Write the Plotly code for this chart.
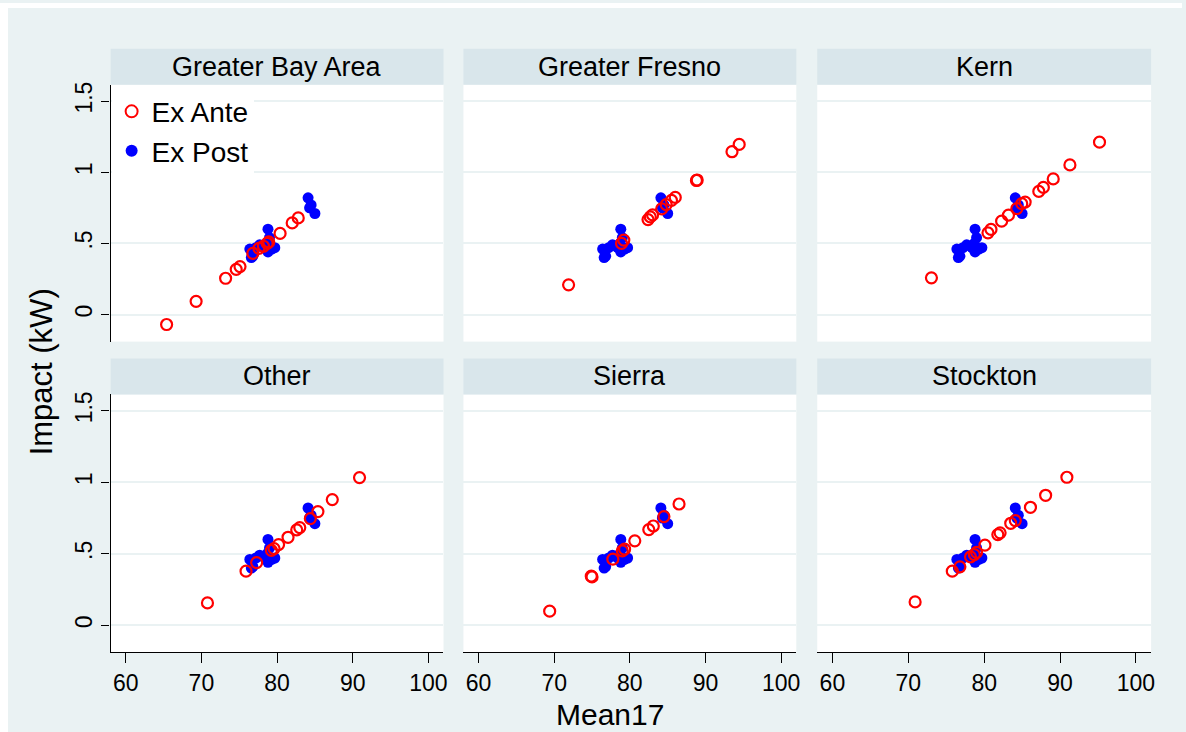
import plotly.graph_objects as go
from plotly.subplots import make_subplots

W, H = 1186, 732

regions = ["Greater Bay Area", "Greater Fresno", "Kern", "Other", "Sierra", "Stockton"]

# Ex Post (same in every panel)
post_x = [84.1, 84.5, 85.0, 84.3, 78.8, 79.0, 78.7, 78.4, 78.8, 79.7, 77.7, 77.2, 76.4, 76.8, 76.6, 78.2, 79.3]
post_y = [0.82, 0.77, 0.71, 0.75, 0.60, 0.54, 0.50, 0.47, 0.44, 0.47, 0.49, 0.47, 0.46, 0.41, 0.40, 0.48, 0.46]

# Ex Ante by region
gba_x = [65.4, 69.3, 73.2, 74.6, 75.1, 76.8, 77.6, 78.2, 78.7, 78.9, 80.4, 82.0, 82.8]
gba_y = [-0.07, 0.093, 0.255, 0.318, 0.337, 0.43, 0.465, 0.48, 0.50, 0.51, 0.57, 0.644, 0.679]

fresno_x = [71.9, 78.9, 79.2, 82.4, 82.7, 83.0, 84.2, 84.8, 85.5, 86.0, 88.8, 88.9, 93.5, 94.45]
fresno_y = [0.209, 0.50, 0.523, 0.667, 0.686, 0.70, 0.742, 0.772, 0.802, 0.823, 0.942, 0.945, 1.144, 1.195]

kern_x = [73.05, 80.5, 80.9, 82.3, 83.2, 84.3, 84.95, 85.4, 87.2, 87.8, 89.1, 91.3, 95.2]
kern_y = [0.258, 0.574, 0.598, 0.656, 0.698, 0.744, 0.779, 0.79, 0.865, 0.893, 0.953, 1.051, 1.211]

other_x = [70.8, 75.9, 77.3, 79.25, 79.6, 80.2, 81.45, 82.6, 83.0, 84.4, 85.4, 87.3, 90.9]
other_y = [0.156, 0.378, 0.438, 0.524, 0.536, 0.564, 0.615, 0.667, 0.683, 0.746, 0.795, 0.879, 1.033]

sierra_x = [69.4, 74.9, 75.0, 77.75, 79.0, 79.3, 80.65, 82.5, 83.1, 84.5, 86.5]
sierra_y = [0.098, 0.343, 0.338, 0.462, 0.52, 0.532, 0.59, 0.669, 0.694, 0.76, 0.848]

stockton_x = [70.9, 75.8, 76.8, 78.2, 78.7, 79.0, 80.1, 81.8, 82.1, 83.5, 84.1, 86.1, 88.1, 90.9]
stockton_y = [0.163, 0.378, 0.408, 0.478, 0.494, 0.51, 0.56, 0.634, 0.646, 0.713, 0.732, 0.825, 0.909, 1.035]

ante_x = [gba_x, fresno_x, kern_x, other_x, sierra_x, stockton_x]
ante_y = [gba_y, fresno_y, kern_y, other_y, sierra_y, stockton_y]

x_ticks = [60, 70, 80, 90, 100]
y_ticks = [0, 0.5, 1, 1.5]
y_ticktext = ["0", ".5", "1", "1.5"]

FONT = "Arial, Liberation Sans, sans-serif"
BG = "#EAF2F3"
HEAD = "#D9E6EB"
GRID = "#EAF2F3"

# pixel layout
col_px = [(111, 445), (465, 799), (820, 1155)]
row_px = [(82, 340), (393, 652)]
head_px = [(46, 82), (357, 393)]

fig = make_subplots(rows=2, cols=3)

for i, reg in enumerate(regions):
    r, c = i // 3 + 1, i % 3 + 1
    fig.add_trace(go.Scatter(x=post_x, y=post_y, mode="markers", name="Ex Post",
                             legendgroup="post", showlegend=(i == 0), legendrank=2,
                             marker=dict(color="#0000FF", size=11, line=dict(width=0))),
                  row=r, col=c)
    fig.add_trace(go.Scatter(x=ante_x[i], y=ante_y[i], mode="markers", name="Ex Ante",
                             legendgroup="ante", showlegend=(i == 0), legendrank=1,
                             marker=dict(symbol="circle-open", color="#FF0000", size=11,
                                         line=dict(width=2.2, color="#FF0000"))),
                  row=r, col=c)

shapes = [
    dict(type="rect", xref="paper", yref="paper", x0=0, x1=8 / W, y0=0, y1=1,
         fillcolor="white", line=dict(width=0), layer="below"),
    dict(type="rect", xref="paper", yref="paper", x0=0, x1=1, y0=1 - 5 / H, y1=1,
         fillcolor="white", line=dict(width=0), layer="below"),
]
annotations = []

for i, reg in enumerate(regions):
    ri, ci = i // 3, i % 3
    r, c = ri + 1, ci + 1
    x0, x1 = col_px[ci]
    ytop, ybot = row_px[ri]
    xd = [x0 / W, x1 / W]
    yd = [1 - ybot / H, 1 - ytop / H]
    fig.update_xaxes(domain=xd, range=[58.0, 102.0], tickvals=x_ticks,
                     showgrid=False, zeroline=False,
                     showline=(ri == 1), linecolor="black", linewidth=1.3,
                     ticks="outside" if ri == 1 else "", ticklen=10, tickwidth=1.3,
                     tickcolor="black", showticklabels=(ri == 1),
                     tickfont=dict(family=FONT, size=23, color="black"),
                     row=r, col=c)
    fig.update_yaxes(domain=yd, range=[-0.19, 1.615], tickvals=y_ticks, ticktext=y_ticktext,
                     showgrid=True, gridcolor=GRID, gridwidth=2, zeroline=False,
                     showline=(ci == 0), linecolor="black", linewidth=1.3,
                     ticks="outside" if ci == 0 else "", ticklen=8, tickwidth=1.3,
                     tickcolor="black", showticklabels=(ci == 0), tickangle=-90,
                     tickfont=dict(family=FONT, size=23, color="black"),
                     row=r, col=c)
    h0, h1 = head_px[ri]
    shapes.append(dict(type="rect", xref="paper", yref="paper",
                       x0=x0 / W, x1=x1 / W, y0=1 - h1 / H, y1=1 - h0 / H,
                       fillcolor=HEAD, line=dict(width=0), layer="below"))
    annotations.append(dict(text=reg, xref="paper", yref="paper",
                            x=(x0 + x1) / 2 / W, y=1 - (h0 + h1) / 2 / H,
                            xanchor="center", yanchor="middle", showarrow=False,
                            font=dict(family=FONT, size=27, color="black")))

annotations.append(dict(text="Mean17", xref="paper", yref="paper", x=612 / W, y=0,
                        xanchor="center", yanchor="bottom", showarrow=False,
                        borderpad=0,
                        font=dict(family=FONT, size=30, color="black")))
annotations.append(dict(text="Impact (kW)", xref="paper", yref="paper", x=42 / W, y=1 - 370 / H,
                        xanchor="center", yanchor="middle", showarrow=False, textangle=-90,
                        font=dict(family=FONT, size=31, color="black")))

fig.update_layout(
    width=W, height=H,
    margin=dict(l=0, r=0, t=0, b=0),
    paper_bgcolor=BG, plot_bgcolor="white",
    shapes=shapes, annotations=annotations,
    showlegend=True,
    legend=dict(x=112 / W, y=1 - 84 / H, xanchor="left", yanchor="top",
                bgcolor="white", borderwidth=0,
                font=dict(family=FONT, size=28, color="black"),
                itemsizing="constant", traceorder="normal"),
    font=dict(family=FONT),
)

fig.write_html("out.html")
